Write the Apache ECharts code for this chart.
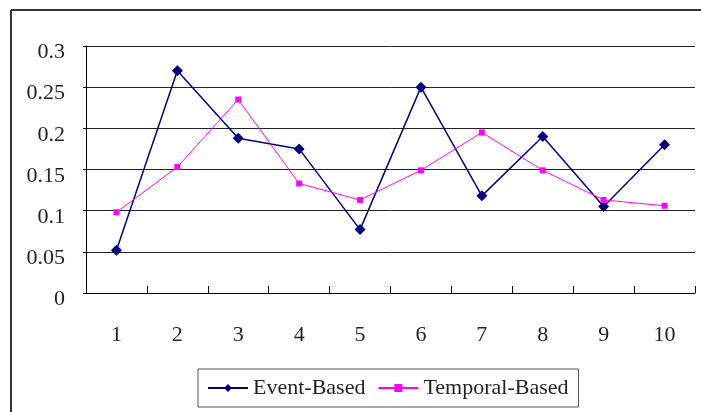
<!DOCTYPE html>
<html>
<head>
<meta charset="utf-8">
<script src="https://cdn.jsdelivr.net/npm/echarts@6/dist/echarts.min.js"></script>
<style>
  html, body { margin: 0; padding: 0; background: #fff; }
  #chart { width: 701px; height: 412px; }
</style>
</head>
<body>
<div id="chart"></div>
<script>
// Category labels along the x axis
const categories = ['1', '2', '3', '4', '5', '6', '7', '8', '9', '10'];
// Series values
const eventBased = [0.052, 0.270, 0.188, 0.175, 0.077, 0.250, 0.118, 0.190, 0.105, 0.180];
const temporalBased = [0.098, 0.153, 0.235, 0.133, 0.113, 0.149, 0.195, 0.149, 0.113, 0.106];
const seriesNames = ['Event-Based', 'Temporal-Based'];

const FONT = "'Liberation Serif', 'Times New Roman', serif";

const chart = echarts.init(document.getElementById('chart'), null, { renderer: 'canvas' });

chart.setOption({
  backgroundColor: '#ffffff',
  animation: false,
  textStyle: { fontFamily: FONT },
  graphic: [
    // outer frame (left and top edges)
    { type: 'line', shape: { x1: 11, y1: 10, x2: 701, y2: 10 }, style: { stroke: '#333', lineWidth: 2 } },
    { type: 'line', shape: { x1: 11, y1: 10, x2: 11, y2: 412 }, style: { stroke: '#333', lineWidth: 2 } }
  ],
  grid: { left: 86, right: 6, top: 46, bottom: 119, containLabel: false },
  legend: {
    data: seriesNames,
    left: 198,
    top: 369,
    orient: 'horizontal',
    padding: [8, 10, 8, 9],
    itemGap: 12,
    itemWidth: 40,
    itemHeight: 10,
    borderColor: '#555',
    borderWidth: 1,
    textStyle: { fontFamily: FONT, fontSize: 22, color: '#222', padding: [4, 0, 0, 0] }
  },
  xAxis: {
    type: 'category',
    data: categories,
    boundaryGap: true,
    axisLine: { lineStyle: { color: '#000', width: 1 } },
    axisTick: { show: true, inside: true, length: 7, lineStyle: { color: '#000' } },
    axisLabel: { fontFamily: FONT, fontSize: 22, color: '#222', margin: 31 },
    splitLine: { show: false }
  },
  yAxis: {
    type: 'value',
    min: 0,
    max: 0.3,
    interval: 0.05,
    axisLine: { show: true, lineStyle: { color: '#000', width: 1 } },
    axisTick: { show: true, length: 3, lineStyle: { color: '#000' } },
    axisLabel: {
      fontFamily: FONT, fontSize: 22, color: '#222', margin: 21,
      // labels sit slightly below their gridlines
      formatter: '{v|{value}}',
      rich: { v: { fontFamily: FONT, fontSize: 22, color: '#222', padding: [13, 0, 0, 0] } }
    },
    splitLine: { show: true, lineStyle: { color: '#222', width: 1 } }
  },
  series: [
    {
      name: seriesNames[0],
      type: 'line',
      data: eventBased,
      symbol: 'diamond',
      symbolSize: 11,
      color: '#000080',
      lineStyle: { color: '#000080', width: 1.5 },
      itemStyle: { color: '#000080' }
    },
    {
      name: seriesNames[1],
      type: 'line',
      data: temporalBased,
      symbol: 'rect',
      symbolSize: 6,
      color: '#ff00ff',
      lineStyle: { color: '#ff00ff', width: 1 },
      itemStyle: { color: '#ff00ff' }
    }
  ]
});
</script>
</body>
</html>
